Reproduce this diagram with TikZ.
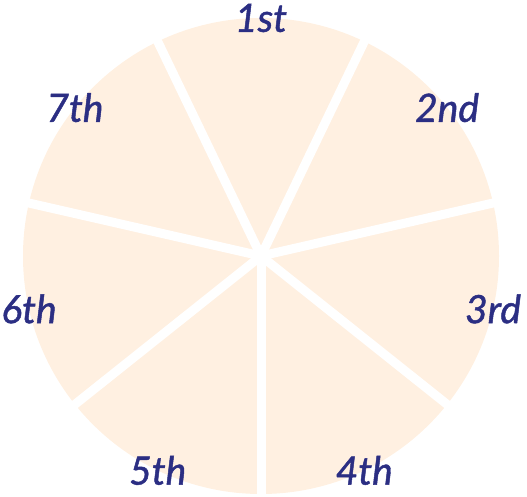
\documentclass[tikz,border=0pt]{standalone}
\usepackage{fontspec}
\setmainfont{Lato}
\newfontfamily\labfont{Lato}[UprightFont=* Italic, FakeBold=1.2]
\usepackage{tikz}
\usetikzlibrary{calc}
\usepackage{xcolor}
\definecolor{peach}{RGB}{255,240,225}
\definecolor{navy}{RGB}{43,46,131}
\tikzset{
  wedgelabel/.style={text=navy, font=\fontsize{39}{42}\selectfont\labfont, inner sep=0pt},
  spoke/.style={white, line width=9pt}
}

\begin{document}
\begin{tikzpicture}[x=1pt, y=1pt]
        \useasboundingbox (0,0) rectangle (527,497);
        \coordinate (centre) at (261,241);

        % the disc and its white gaps
        \fill [peach] (centre) circle (238);
        \foreach \k in {0,...,6}
            \draw [spoke] (centre) -- ++(-90+\k*360/7:250);

        % labels, clockwise from the top
        \foreach \lab [count=\i from 0] in {1st,2nd,3rd,4th,5th,6th,7th}
            \node (w\i) [wedgelabel] at ($(centre)+(90-\i*360/7:238)$) {\lab};
    \end{tikzpicture}
\end{document}
